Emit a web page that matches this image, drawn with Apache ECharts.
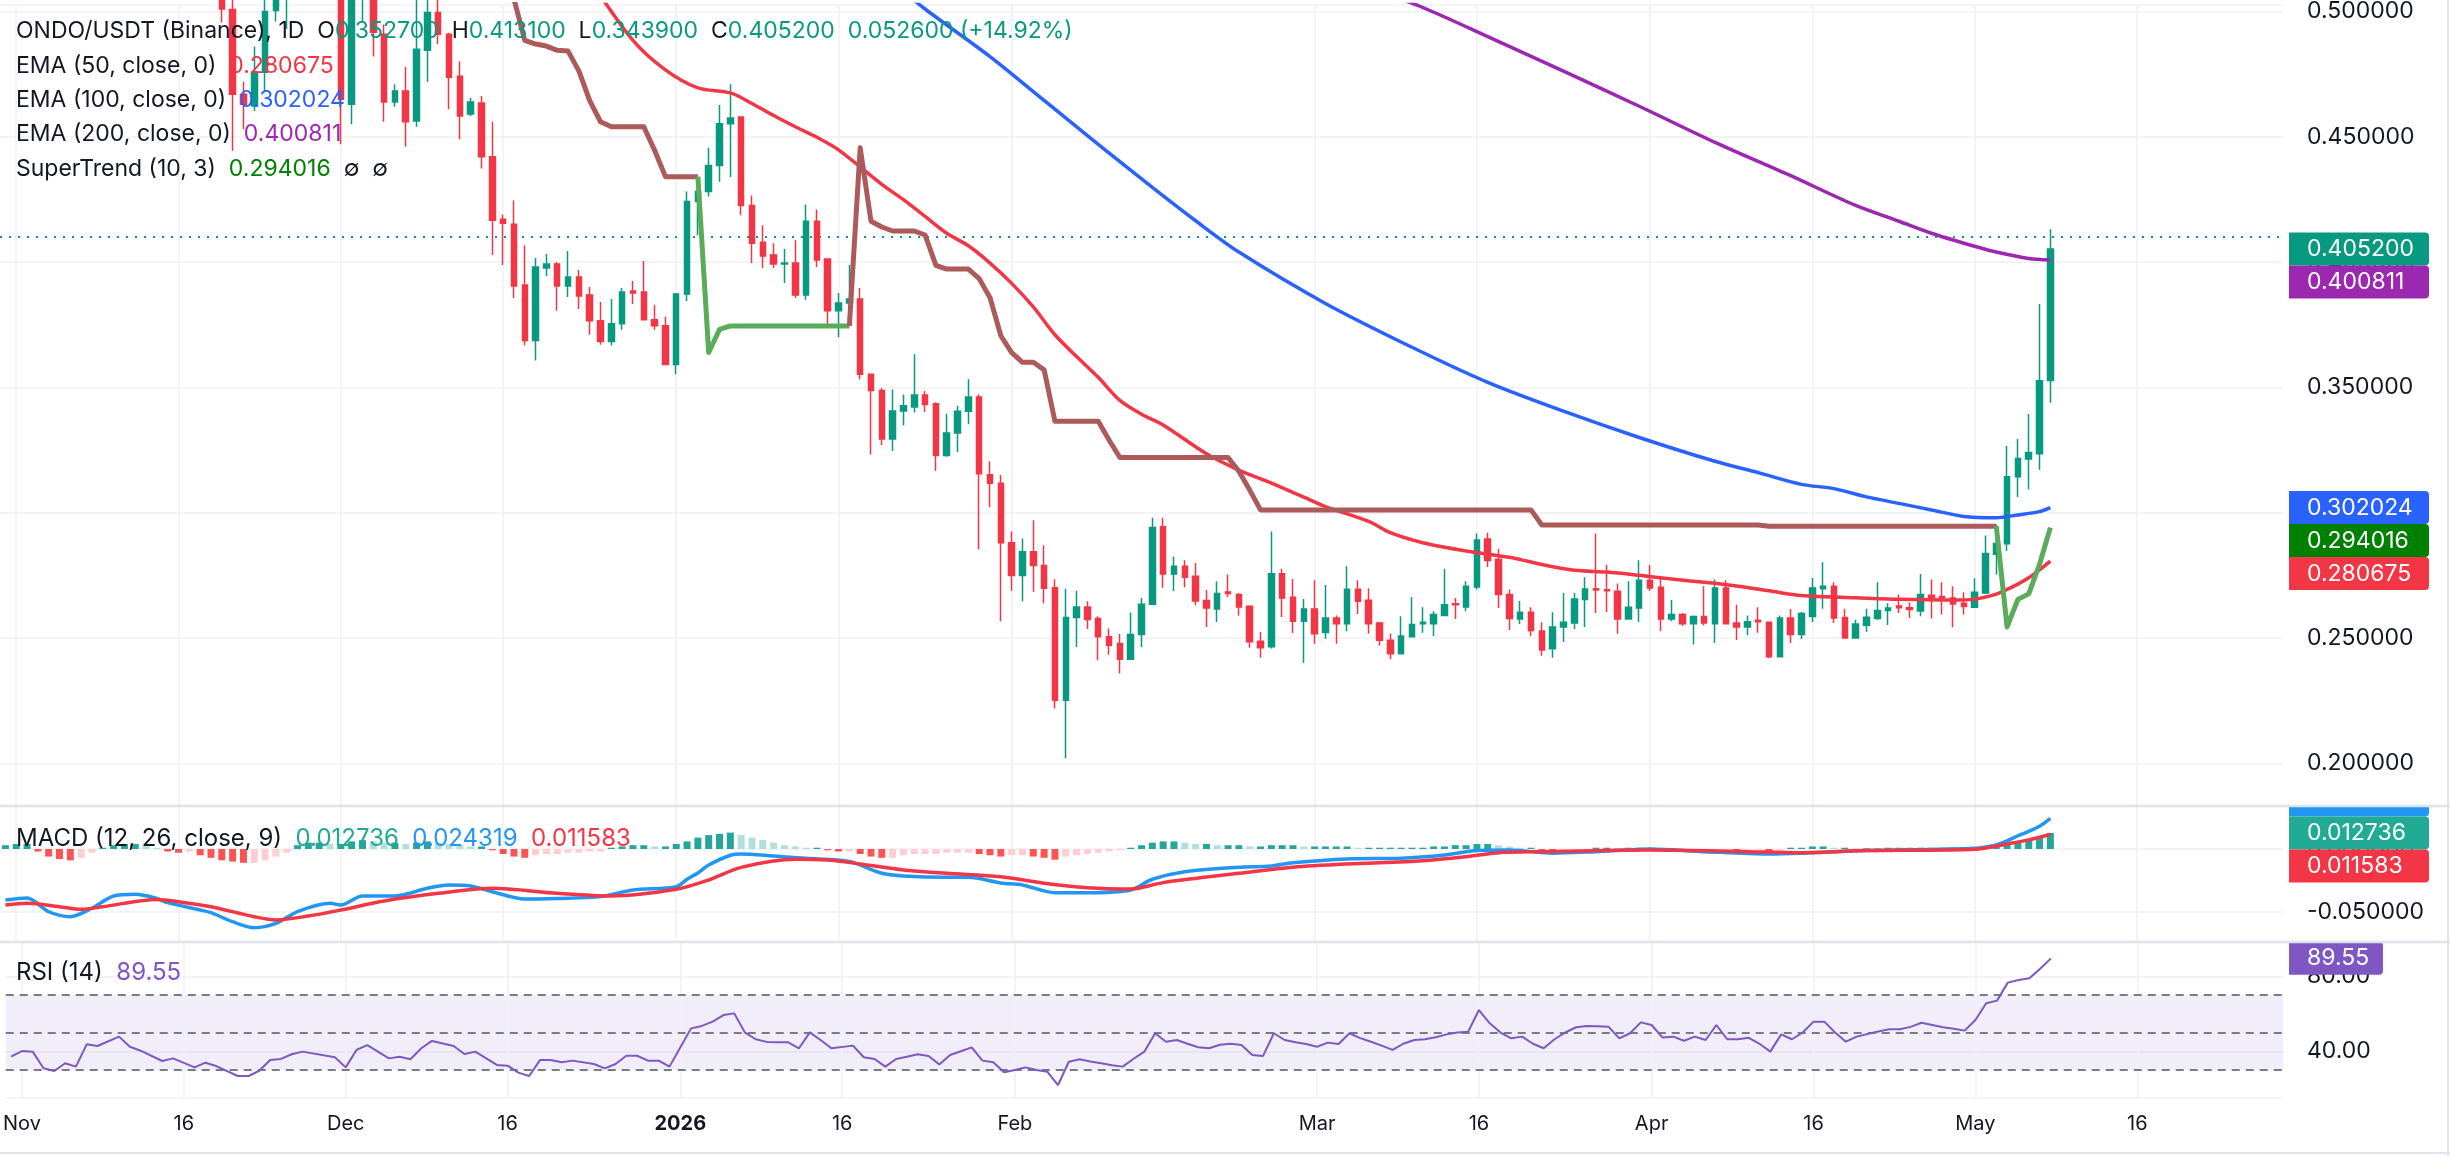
<!DOCTYPE html>
<html>
<head>
<meta charset="utf-8">
<title>ONDO/USDT (Binance), 1D</title>
<script src="https://cdn.jsdelivr.net/npm/echarts@6.0.0/dist/echarts.min.js"></script>
<style>
html, body { margin: 0; padding: 0; background: #ffffff; }
#chart { width: 2450px; height: 1156px; }
</style>
</head>
<body>
<div id="chart"></div>
<script>
// day numbers count from 2025-11-01 (day 0)
var firstDay = -1, lastDay = 209;
var candleStartDay = 19;   // first candle: 2025-11-20
var histStartDay = -1;     // first histogram bar: 2025-10-31

var openP = [0.515,0.5008,0.467,0.4623,0.4758,0.5004,0.512,0.522,0.53,0.52,0.525,
  0.515,0.463,0.505,0.51,0.4909,0.4639,0.4683,0.4563,0.4845,0.4996,
  0.4909,0.4742,0.4591,0.4635,0.442,0.4171,0.4151,0.3909,0.3687,0.3976,
  0.3992,0.3905,0.394,0.3869,0.3766,0.3683,0.3754,0.3885,0.3881,0.377,
  0.3746,0.3591,0.3873,0.4242,0.4282,0.4385,0.4552,0.4579,0.4226,0.4079,
  0.4028,0.3992,0.3996,0.3869,0.4163,0.4012,0.3806,0.3837,0.3853,0.3552,
  0.3488,0.3294,0.3406,0.3422,0.347,0.3435,0.3228,0.3318,0.3405,0.3462,
  0.3151,0.3117,0.288,0.2749,0.2844,0.2789,0.27,0.2251,0.2582,0.2624,
  0.2578,0.2505,0.2478,0.2415,0.2514,0.2635,0.2944,0.2755,0.2786,0.2746,
  0.2649,0.2616,0.2683,0.2673,0.2627,0.2487,0.2465,0.2756,0.2662,0.2567,
  0.2616,0.2522,0.258,0.2557,0.2694,0.265,0.256,0.2491,0.2437,0.2505,
  0.2557,0.2557,0.259,0.2637,0.2624,0.2703,0.2895,0.2814,0.2673,0.2576,
  0.2603,0.2528,0.2457,0.2544,0.256,0.2653,0.2696,0.2692,0.2686,0.2576,
  0.262,0.273,0.2702,0.2576,0.2594,0.2557,0.2586,0.2557,0.2699,0.256,
  0.2544,0.2571,0.2563,0.2425,0.258,0.2514,0.2586,0.2696,0.2706,0.2582,
  0.25,0.2551,0.2578,0.261,0.2628,0.2621,0.2608,0.267,0.2665,0.2659,
  0.2639,0.2623,0.2679,0.2834,0.2876,0.3143,0.3214,0.3235,0.3527];
var highP = [0.525,0.51,0.472,0.486,0.508,0.52,0.53,0.54,0.545,0.53,0.53,
  0.52,0.51,0.52,0.515,0.4948,0.471,0.478,0.508,0.51,0.505,
  0.4915,0.48,0.4655,0.4663,0.456,0.419,0.4246,0.4067,0.4016,0.4032,
  0.40,0.4044,0.3968,0.3901,0.3841,0.3853,0.3897,0.3925,0.4004,0.383,
  0.3782,0.3877,0.4282,0.4306,0.4456,0.4627,0.471,0.4579,0.4266,0.4147,
  0.4075,0.4052,0.4087,0.423,0.421,0.4012,0.3877,0.3988,0.3897,0.3552,
  0.3498,0.3492,0.3472,0.3632,0.3486,0.344,0.3395,0.3427,0.3532,0.3473,
  0.3205,0.315,0.2925,0.2897,0.297,0.287,0.2734,0.2696,0.2688,0.2646,
  0.2587,0.2538,0.2516,0.2602,0.2659,0.298,0.298,0.2825,0.281,0.2799,
  0.2691,0.2726,0.2753,0.2678,0.263,0.2524,0.2925,0.2776,0.2735,0.2655,
  0.273,0.2711,0.259,0.2786,0.273,0.2698,0.2564,0.2518,0.2587,0.2663,
  0.2623,0.2607,0.2776,0.2659,0.2726,0.2917,0.292,0.2855,0.2693,0.2647,
  0.2623,0.2563,0.2603,0.2679,0.2679,0.2742,0.2917,0.2792,0.2717,0.2726,
  0.281,0.2792,0.2735,0.2651,0.26,0.259,0.2706,0.2733,0.273,0.2633,
  0.259,0.2623,0.2563,0.259,0.2616,0.2604,0.2739,0.2802,0.2722,0.2617,
  0.2573,0.2617,0.2722,0.2639,0.2673,0.2642,0.2755,0.2733,0.2722,0.2706,
  0.2682,0.2738,0.2909,0.2952,0.3266,0.3294,0.3394,0.3833,0.4131];
var lowP = [0.4956,0.4444,0.453,0.4603,0.468,0.496,0.493,0.51,0.512,0.512,0.507,
  0.447,0.455,0.496,0.482,0.456,0.462,0.446,0.454,0.472,0.487,
  0.461,0.449,0.4583,0.4373,0.4028,0.3988,0.3857,0.3667,0.3607,0.3944,
  0.3806,0.3861,0.3813,0.371,0.367,0.3667,0.373,0.3833,0.377,0.373,
  0.3591,0.3552,0.3845,0.4107,0.4262,0.4321,0.434,0.4187,0.3996,0.3976,
  0.3976,0.3917,0.3857,0.385,0.398,0.375,0.37,0.383,0.3532,0.3232,
  0.327,0.3246,0.3348,0.34,0.3402,0.3167,0.3223,0.3242,0.3353,0.2853,
  0.3022,0.2567,0.2688,0.2646,0.2684,0.2639,0.2218,0.202,0.2464,0.2536,
  0.2411,0.2433,0.2358,0.2412,0.2464,0.2632,0.27,0.2687,0.2702,0.2631,
  0.2544,0.2564,0.2663,0.259,0.2461,0.2421,0.2458,0.2584,0.252,0.2401,
  0.2477,0.2497,0.2477,0.2527,0.2596,0.2517,0.247,0.2415,0.2437,0.2505,
  0.2521,0.2508,0.259,0.2576,0.2607,0.2693,0.2783,0.262,0.2532,0.2556,
  0.2508,0.2429,0.2421,0.2484,0.2536,0.2544,0.26,0.2604,0.2517,0.2576,
  0.2564,0.2687,0.2527,0.2567,0.2548,0.2474,0.255,0.248,0.2557,0.2492,
  0.2511,0.2521,0.2419,0.2425,0.248,0.2496,0.2564,0.2617,0.256,0.2498,
  0.2498,0.2524,0.2573,0.2552,0.26,0.258,0.2587,0.2578,0.2594,0.2543,
  0.2594,0.2623,0.2675,0.2752,0.2847,0.3063,0.3092,0.3171,0.3439];
var closeP = [0.501,0.467,0.463,0.4758,0.500,0.512,0.522,0.53,0.52,0.525,0.515,
  0.465,0.505,0.51,0.4917,0.4639,0.4683,0.456,0.4849,0.4996,0.4909,
  0.4738,0.4583,0.4639,0.442,0.4167,0.4155,0.3905,0.3687,0.398,0.3992,
  0.3905,0.394,0.3865,0.3766,0.3683,0.3754,0.3881,0.3877,0.377,0.3746,
  0.3591,0.3873,0.4242,0.4282,0.4385,0.4552,0.4575,0.4226,0.4075,0.4024,
  0.3992,0.3996,0.3869,0.4163,0.4008,0.3806,0.3837,0.3853,0.3552,0.3488,
  0.3294,0.3406,0.3427,0.347,0.3432,0.3228,0.3318,0.3405,0.3462,0.3155,
  0.3117,0.288,0.2749,0.2844,0.2789,0.2698,0.2251,0.2582,0.2624,0.2574,
  0.2505,0.2471,0.2415,0.2514,0.2635,0.2941,0.2755,0.2786,0.2742,0.2647,
  0.262,0.2677,0.2677,0.2624,0.2485,0.2461,0.2756,0.2659,0.2567,0.2616,
  0.2517,0.258,0.2557,0.2694,0.2646,0.2557,0.2491,0.2437,0.2508,0.2554,
  0.2563,0.2594,0.2633,0.2633,0.2706,0.2891,0.2809,0.2673,0.2578,0.2603,
  0.253,0.2452,0.2544,0.2563,0.2655,0.2695,0.2691,0.2688,0.2576,0.2623,
  0.273,0.2699,0.2576,0.2594,0.2557,0.2586,0.256,0.2699,0.2557,0.2544,
  0.2565,0.2565,0.2425,0.258,0.2514,0.2598,0.2699,0.2706,0.258,0.25,
  0.2556,0.2583,0.261,0.262,0.2621,0.2614,0.2673,0.2662,0.2659,0.2636,
  0.2626,0.2682,0.2837,0.2877,0.3143,0.3216,0.324,0.3526,0.4052];

// [day, value] readings of the indicator lines
var ema50Pts = [[52,0.516],[53,0.512],[57,0.4885],[60,0.4767],[63,0.4695],[66,0.4675],[68,0.4633],[70,0.4585],
  [72,0.454],[74,0.4498],[76,0.4448],[80,0.431],[82,0.4249],[84,0.4182],[86,0.4115],[88,0.4065],[90,0.3996],
  [92,0.3915],[94,0.3821],[96,0.371],[98,0.3623],[100,0.354],[102,0.3448],[104,0.3393],[106,0.335],[110,0.3235],
  [113,0.317],[116,0.3118],[119,0.3062],[121,0.3024],[125,0.2965],[127,0.292],[130,0.288],[134,0.2847],[138,0.2822],
  [141,0.2793],[144,0.277],[147,0.2763],[150,0.275],[153,0.2735],[156,0.2722],[159,0.2707],[162,0.2688],[165,0.2669],
  [170,0.266],[174,0.2654],[179,0.2651],[181,0.2655],[183,0.2675],[184,0.2694],[185,0.2715],[186,0.274],[187,0.2772],[188,0.280675]];
var ema100Pts = [[80,0.515],[84,0.501],[90,0.482],[95,0.4645],[100,0.447],[105,0.4298],[109,0.4165],[113,0.404],
  [121,0.3835],[129,0.366],[136,0.352],[143,0.3405],[150,0.33],[157,0.3205],[161,0.316],[165,0.3113],[168,0.3096],
  [171,0.3063],[174,0.3037],[177,0.3011],[180,0.2985],[183,0.298],[185,0.2991],[187,0.3004],[188,0.302024]];
var ema200Pts = [[126,0.508],[130,0.5016],[136,0.49],[143,0.4762],[150,0.4622],[157,0.4478],[164,0.4345],[170,0.4226],
  [174,0.4163],[177,0.4115],[181,0.4063],[183,0.404],[186,0.4014],[188,0.400811]];
var stDown1 = [[44,0.545],[45,0.525],[46,0.505],[47,0.4885],[48,0.487],[49,0.4862],[50,0.4845],[51,0.4842],[52,0.4763],
  [53,0.4644],[54,0.456],[55,0.454],[58,0.454],[59,0.4446],[60,0.4341],[63,0.4341]];
var stUp1 = [[63,0.4341],[64,0.3639],[65,0.3731],[66,0.3745],[77,0.3745]];
var stDown2 = [[77,0.3745],[78,0.4456],[79,0.4163],[80,0.414],[81,0.4124],[83,0.4124],[84,0.4108],[85,0.3987],[86,0.3972],
  [88,0.3972],[89,0.3934],[90,0.3858],[91,0.3706],[92,0.3639],[93,0.36],[94,0.36],[95,0.357],[96,0.3365],[100,0.3365],
  [101,0.329],[102,0.322],[112,0.322],[113,0.3165],[114,0.309],[115,0.3011],[140,0.3011],[141,0.2951],[161,0.2951],
  [162,0.2946],[183,0.2946]];
var stUp2 = [[183,0.2946],[184,0.2544],[185,0.2654],[186,0.2676],[187,0.2794],[188,0.294016]];

var macdPts = [[-1,-0.0405],[1,-0.0389],[3,-0.0498],[5,-0.0537],[7,-0.047],[9,-0.0373],[11,-0.036],[13,-0.0392],
  [14,-0.0426],[17,-0.0484],[18,-0.0505],[20,-0.0577],[22,-0.0624],[24,-0.059],[26,-0.0497],[29,-0.0431],[30,-0.0444],
  [32,-0.0373],[35,-0.0373],[38,-0.0312],[40,-0.0286],[42,-0.0294],[44,-0.0339],[47,-0.0397],[50,-0.0392],[54,-0.0378],
  [57,-0.0325],[61,-0.0299],[62,-0.024],[63,-0.019],[64,-0.0127],[66,-0.005],[67,-0.004],[70,-0.0056],[73,-0.0074],
  [77,-0.01],[80,-0.0193],[82,-0.0214],[86,-0.0225],[88,-0.0225],[91,-0.027],[93,-0.0286],[96,-0.0347],[99,-0.0347],
  [103,-0.0325],[105,-0.024],[108,-0.018],[113,-0.0145],[116,-0.0135],[118,-0.0109],[123,-0.0079],[128,-0.0074],
  [132,-0.0048],[135,-0.0012],[138,-0.0008],[142,-0.0034],[146,-0.0021],[151,0],[156,-0.0021],[162,-0.004],
  [165,-0.0034],[171,-0.0013],[181,0.0006],[183,0.0032],[184,0.0065],[185,0.0105],[186,0.014],[187,0.018],[188,0.024319]];
var signalPts = [[-1,-0.0444],[1,-0.0431],[4,-0.0458],[6,-0.0479],[8,-0.0458],[13,-0.04],[15,-0.0418],[18,-0.0458],
  [22,-0.0537],[24,-0.0563],[27,-0.0532],[30,-0.0484],[34,-0.0413],[39,-0.0352],[44,-0.0312],[50,-0.0352],[55,-0.0373],
  [61,-0.032],[64,-0.0246],[67,-0.0146],[72,-0.0082],[75,-0.0087],[78,-0.0119],[82,-0.0167],[86,-0.0193],[91,-0.022],
  [95,-0.0272],[99,-0.0307],[103,-0.0317],[106,-0.0267],[113,-0.0193],[118,-0.0145],[123,-0.0119],[130,-0.0093],
  [134,-0.0061],[137,-0.0029],[141,-0.0021],[151,-0.0008],[160,-0.0021],[165,-0.0029],[171,-0.0013],[181,-0.0002],
  [184,0.004],[186,0.0072],[187,0.0093],[188,0.011583]];
var macdHist = [0.003,0.004,0.004,-0.002,-0.006,-0.008,-0.009,-0.007,-0.003,0.001,
  0.003,0.004,0.004,0.003,0.001,-0.002,-0.003,-0.002,-0.005,-0.007,
  -0.009,-0.01,-0.011,-0.011,-0.009,-0.006,-0.003,0.003,0.005,0.005,
  0.004,0.004,0.006,0.007,0.006,0.005,0.005,0.004,0.005,0.006,
  0.005,0.004,0.003,0.002,0.002,-0.001,-0.004,-0.006,-0.007,-0.005,
  -0.004,-0.004,-0.003,-0.003,-0.002,-0.002,0.001,0.002,0.003,0.003,
  0.002,0.002,0.004,0.006,0.009,0.011,0.012,0.013,0.011,0.009,
  0.007,0.005,0.003,0.002,0.001,0.001,-0.001,-0.002,-0.002,-0.004,
  -0.006,-0.007,-0.007,-0.005,-0.004,-0.004,-0.004,-0.003,-0.003,-0.003,
  -0.004,-0.005,-0.006,-0.005,-0.005,-0.006,-0.007,-0.0085,-0.006,-0.005,
  -0.004,-0.003,-0.002,-0.001,0.001,0.003,0.005,0.006,0.006,0.005,
  0.004,0.004,0.003,0.003,0.003,0.002,0.002,0.003,0.003,0.003,
  0.002,0.002,0.002,0.002,0.002,0.001,0.001,0.001,0.001,0.001,
  0.001,0.001,0.002,0.002,0.003,0.003,0.004,0.004,0.003,0.002,
  0.001,0.001,-0.001,-0.002,-0.001,-0.001,-0.001,0.001,0.001,0.0005,
  0.001,0.001,0.001,0.0005,0.0005,-0.0005,-0.0005,-0.001,-0.0005,-0.0005,
  -0.001,-0.001,-0.001,-0.002,-0.001,0.001,0.001,0.002,0.002,0.001,
  0.001,0.0005,0.0005,0.0005,0.001,0.001,0.001,0.001,0.001,0.001,
  0.001,0.001,0.001,0.002,0.003,0.004,0.006,0.007,0.009,0.012736];
var rsiPts = [[-1,37.1],[0,40.1],[1,39.8],[2,30.9],[3,29.5],[4,33.6],[5,31.8],[6,43.7],[7,42.8],[9,47.8],[10,42.4],
  [11,40.3],[13,34.8],[14,36.2],[16,31.4],[17,33.9],[18,32.1],[20,26.8],[21,26.8],[22,29.6],[23,35.3],[24,35.9],
  [25,38.4],[26,39.8],[29,36.8],[30,31.4],[31,40.7],[32,43.3],[34,36.2],[35,37.1],[36,35.7],[37,41.6],[38,45.5],
  [40,42.8],[41,38.5],[42,39.8],[44,32.7],[45,32.3],[46,28.6],[47,26.8],[48,35.3],[49,35.3],[50,34.1],[51,35],
  [53,33.2],[54,30.9],[55,33.2],[56,37.6],[57,37.6],[58,35],[59,35],[60,31.8],[61,42],[62,52.2],[63,53.5],[64,55.8],
  [65,59.3],[66,60.2],[67,49.9],[68,46.4],[69,45],[70,44.8],[71,44.8],[72,41.6],[73,50.1],[74,46],[75,41.6],[77,43],
  [78,36.8],[79,35.9],[80,31.8],[81,35.9],[82,37.1],[83,38.4],[84,37.5],[85,33],[86,38],[87,40],[88,42.1],[89,35],
  [90,34.1],[91,28.8],[92,30],[93,31.4],[94,30],[95,29.1],[96,22],[97,34.4],[98,35.7],[99,34.5],[100,33.6],[101,32.5],
  [102,31.8],[103,36],[104,39.8],[105,49.6],[106,45.1],[107,46],[108,44],[109,42.1],[110,41.6],[111,43.5],[112,44],
  [113,43.3],[114,38],[115,37.5],[116,49.6],[117,46],[118,44.8],[119,43.9],[120,42.4],[121,44.6],[122,43.9],[123,49.6],
  [124,47],[125,45.1],[126,43],[127,40.7],[128,44],[129,46],[130,46.4],[131,47.5],[132,49],[133,50],[134,50.4],[135,62],
  [136,54.9],[137,50],[138,46.9],[139,47.8],[140,44],[141,41.6],[142,46.4],[143,50],[144,52.8],[145,53.5],[146,53.4],
  [147,53.1],[148,46.9],[149,49.6],[150,55.4],[151,54],[152,47.4],[153,47.8],[154,45.6],[155,47.8],[156,46],[157,54],
  [158,46.4],[159,46.4],[160,47.2],[161,44],[162,39.8],[163,49],[164,46.4],[165,50],[166,55.8],[167,55.8],[168,50],
  [169,45.1],[170,47.8],[172,50.5],[173,51.7],[174,51.7],[175,53],[176,55.2],[177,54],[178,52.8],[179,52],[180,51],
  [181,56.7],[182,65.6],[183,67],[184,76.6],[185,78],[186,78.9],[187,84],[188,89.55]];

var priceTicks = { min: 0.18294, max: 0.50278, step: 0.05 };
var macdTicks = { min: -0.0738, max: 0.0341, step: 0.05 };
var rsiTicks = { min: 15.07, max: 98.27, step: 40 };
var rsiLevels = [70, 50, 30];
var lastPrice = 0.4052;

var monthNames = ['Jan','Feb','Mar','Apr','May','Jun','Jul','Aug','Sep','Oct','Nov','Dec'];
var dayZero = Date.UTC(2025, 10, 1);
function dayLabel(d) {
  var t = new Date(dayZero + d * 86400000);
  var m = t.getUTCMonth() + 1, dd = t.getUTCDate();
  return t.getUTCFullYear() + '-' + (m < 10 ? '0' : '') + m + '-' + (dd < 10 ? '0' : '') + dd;
}
var categories = [];
for (var d = firstDay; d <= lastDay; d++) categories.push(dayLabel(d));

function isGridDay(lbl) {
  var day = +lbl.slice(8, 10), mon = +lbl.slice(5, 7);
  return day === 1 || (day === 16 && mon !== 2);
}
function shortLabel(lbl) {
  var day = +lbl.slice(8, 10), mon = +lbl.slice(5, 7);
  if (day !== 1) return '' + day;
  if (mon === 1) return '{b|' + lbl.slice(0, 4) + '}';
  return monthNames[mon - 1];
}
var gridDays = categories.filter(isGridDay);
function vLines() {
  return gridDays.map(function (c) { return { xAxis: c }; });
}
function pts(arr) {
  return arr.map(function (p) { return [dayLabel(p[0]), p[1]]; });
}

var candleData = [];
for (var i = 0; i < openP.length; i++) {
  candleData.push([dayLabel(candleStartDay + i), openP[i], closeP[i], lowP[i], highP[i]]);
}
var histData = macdHist.map(function (v, i) {
  var prev = i > 0 ? macdHist[i - 1] : v;
  var c;
  if (v >= 0) c = v >= prev ? '#26a69a' : '#b2dfdb';
  else c = v < prev ? '#ff5252' : '#ffcdd2';
  return { value: [dayLabel(histStartDay + i), v], itemStyle: { color: c } };
});

var FONT = 'Inter, "Noto Sans", sans-serif';
var gridLineColor = '#f0f1f4';

var myChart = echarts.init(document.getElementById('chart'), null, { width: 2450, height: 1156 });

function xAxisFor(idx, showLabel) {
  return {
    type: 'category', gridIndex: idx, data: categories, boundaryGap: true,
    axisLine: { show: false }, axisTick: { show: false }, splitLine: { show: false },
    axisLabel: {
      show: showLabel, interval: function (index, value) { return isGridDay(value); },
      formatter: shortLabel, color: '#131722', fontSize: 20, fontFamily: FONT, margin: 16,
      rich: { b: { fontWeight: 'bold', fontSize: 20, fontFamily: FONT, color: '#131722' } }
    }
  };
}
function yAxisFor(idx, t, digits) {
  return {
    type: 'value', gridIndex: idx, position: 'right', scale: true,
    min: t.min, max: t.max, minInterval: t.step, maxInterval: t.step,
    axisLine: { show: false }, axisTick: { show: false },
    splitLine: { show: true, lineStyle: { color: gridLineColor, width: 1.5 } },
    axisLabel: {
      showMinLabel: false, showMaxLabel: false, margin: 24, color: '#131722',
      fontSize: 23, fontFamily: FONT,
      formatter: function (v) { return v.toFixed(digits); }
    }
  };
}
var gridLineStyle = { color: gridLineColor, width: 1.5, type: 'solid' };

myChart.setOption({
  animation: false,
  backgroundColor: '#ffffff',
  grid: [
    { left: -6, right: 167, top: 0, height: 806 },
    { left: -6, right: 167, top: 806, height: 136 },
    { left: -6, right: 167, top: 942, height: 156 }
  ],
  xAxis: [xAxisFor(0, false), xAxisFor(1, false), xAxisFor(2, true)],
  yAxis: [yAxisFor(0, priceTicks, 6), yAxisFor(1, macdTicks, 6), yAxisFor(2, rsiTicks, 2)],
  series: [
    {
      name: 'ONDO/USDT', type: 'candlestick', xAxisIndex: 0, yAxisIndex: 0,
      dimensions: ['date', 'open', 'close', 'lowest', 'highest'],
      encode: { x: 'date', y: ['open', 'close', 'lowest', 'highest'] },
      data: candleData, barWidth: 6,
      itemStyle: { color: '#089981', color0: '#f23645', borderColor: '#089981', borderColor0: '#f23645', borderWidth: 1.5 },
      markLine: {
        silent: true, symbol: ['none', 'none'], z: 1, label: { show: false },
        lineStyle: gridLineStyle,
        data: vLines().concat([{ yAxis: lastPrice, lineStyle: { color: '#089981', width: 2, type: [2, 7] } }])
      }
    },
    { name: 'EMA 50', type: 'line', xAxisIndex: 0, yAxisIndex: 0, data: pts(ema50Pts), smooth: 0.3, showSymbol: false,
      lineStyle: { color: '#f23645', width: 3.5 } },
    { name: 'EMA 100', type: 'line', xAxisIndex: 0, yAxisIndex: 0, data: pts(ema100Pts), smooth: 0.3, showSymbol: false,
      lineStyle: { color: '#2962ff', width: 3.5 } },
    { name: 'EMA 200', type: 'line', xAxisIndex: 0, yAxisIndex: 0, data: pts(ema200Pts), smooth: 0.3, showSymbol: false,
      lineStyle: { color: '#9c27b0', width: 3.5 } },
    { name: 'ST down 1', type: 'line', xAxisIndex: 0, yAxisIndex: 0, data: pts(stDown1), showSymbol: false,
      lineStyle: { color: '#ac5a5a', width: 5, join: 'round' } },
    { name: 'ST up 1', type: 'line', xAxisIndex: 0, yAxisIndex: 0, data: pts(stUp1), showSymbol: false,
      lineStyle: { color: '#5aab5a', width: 5, join: 'round' } },
    { name: 'ST down 2', type: 'line', xAxisIndex: 0, yAxisIndex: 0, data: pts(stDown2), showSymbol: false,
      lineStyle: { color: '#ac5a5a', width: 5, join: 'round' } },
    { name: 'ST up 2', type: 'line', xAxisIndex: 0, yAxisIndex: 0, data: pts(stUp2), showSymbol: false,
      lineStyle: { color: '#5aab5a', width: 5, join: 'round' } },
    {
      name: 'Histogram', type: 'bar', xAxisIndex: 1, yAxisIndex: 1, data: histData, barWidth: 7,
      markLine: { silent: true, symbol: ['none', 'none'], z: 1, label: { show: false }, lineStyle: gridLineStyle, data: vLines() }
    },
    { name: 'MACD', type: 'line', xAxisIndex: 1, yAxisIndex: 1, data: pts(macdPts), smooth: 0.3, showSymbol: false,
      lineStyle: { color: '#2196f3', width: 3.5 } },
    { name: 'Signal', type: 'line', xAxisIndex: 1, yAxisIndex: 1, data: pts(signalPts), smooth: 0.3, showSymbol: false,
      lineStyle: { color: '#f23645', width: 3.5 } },
    {
      name: 'RSI', type: 'line', xAxisIndex: 2, yAxisIndex: 2, data: pts(rsiPts), showSymbol: false,
      lineStyle: { color: '#7e57c2', width: 2 },
      markArea: { silent: true, itemStyle: { color: 'rgba(126,87,194,0.1)' }, data: [[{ yAxis: 30 }, { yAxis: 70 }]] },
      markLine: {
        silent: true, symbol: ['none', 'none'], z: 1, label: { show: false }, lineStyle: gridLineStyle,
        data: vLines().concat(rsiLevels.map(function (v) {
          return { yAxis: v, lineStyle: { color: '#787b86', width: 2, type: [8, 6] } };
        }))
      }
    }
  ]
});

// value tags on the right scale, stacked so they do not overlap
function tagStack(items, anchor, h) {
  items[anchor].top = items[anchor].y - h / 2;
  for (var i = anchor + 1; i < items.length; i++) items[i].top = Math.max(items[i].y - h / 2, items[i - 1].top + h);
  for (var j = anchor - 1; j >= 0; j--) items[j].top = Math.min(items[j].y - h / 2, items[j + 1].top - h);
  return items;
}
function yPix(axis, v) { return myChart.convertToPixel({ yAxisIndex: axis }, v); }
var TAG_H = 33;
var priceTags = tagStack([
  { v: 0.4052, c: '#089981', t: '0.405200' },
  { v: 0.400811, c: '#9c27b0', t: '0.400811' },
  { v: 0.302024, c: '#2962ff', t: '0.302024' },
  { v: 0.294016, c: '#008000', t: '0.294016' },
  { v: 0.280675, c: '#f23645', t: '0.280675' }
].map(function (o) { o.y = yPix(0, o.v); return o; }), 0, TAG_H);
var macdTags = tagStack([
  { v: 0.024319, c: '#2196f3', t: '0.024319' },
  { v: 0.012736, c: '#22ab94', t: '0.012736' },
  { v: 0.011583, c: '#f23645', t: '0.011583' }
].map(function (o) { o.y = yPix(1, o.v); return o; }), 1, TAG_H);
var rsiTags = tagStack([{ v: 89.55, c: '#7e57c2', t: '89.55' }].map(function (o) { o.y = yPix(2, o.v); return o; }), 0, TAG_H);

var graphics = [];
function addTag(o, w) {
  graphics.push({ type: 'rect', z: 100, shape: { x: 2289, y: o.top, width: w, height: TAG_H, r: [0, 4, 4, 0] }, style: { fill: o.c } });
  graphics.push({ type: 'text', z: 101, x: 2307, y: o.top + TAG_H / 2,
    style: { text: o.t, fill: '#ffffff', font: '23px ' + FONT, verticalAlign: 'middle' } });
}
priceTags.forEach(function (o) { addTag(o, 140); });
macdTags.forEach(function (o) { addTag(o, 140); });
rsiTags.forEach(function (o) { addTag(o, 94); });

// keep the MACD tags inside their pane
graphics.push({ type: 'rect', z: 110, shape: { x: 2284, y: 779, width: 166, height: 26 }, style: { fill: '#ffffff' } });
// pane separators and borders
[806, 942].forEach(function (y) {
  graphics.push({ type: 'line', z: 120, shape: { x1: 0, y1: y, x2: 2450, y2: y }, style: { stroke: '#e0e3eb', lineWidth: 2.5 } });
});
graphics.push({ type: 'line', z: 120, shape: { x1: 2448, y1: 0, x2: 2448, y2: 1156 }, style: { stroke: '#e0e3eb', lineWidth: 2 } });
graphics.push({ type: 'line', z: 120, shape: { x1: 0, y1: 1153, x2: 2450, y2: 1153 }, style: { stroke: '#e0e3eb', lineWidth: 2 } });

// legends
function legend(y, size, text, rich) {
  var f = size + 'px ' + FONT;
  var r = { k: { fill: '#131722', font: f } };
  for (var key in rich) r[key] = { fill: rich[key], font: f };
  graphics.push({ type: 'text', z: 130, x: 16, y: y, style: { text: text, rich: r, font: f, fill: '#131722', verticalAlign: 'middle' } });
}
legend(31, 23, '{k|ONDO/USDT (Binance), 1D}  {k|O}{v|0.352700}  {k|H}{v|0.413100}  {k|L}{v|0.343900}  {k|C}{v|0.405200}  {v|0.052600 (+14.92%)}', { v: '#089981' });
legend(66, 23, '{k|EMA (50, close, 0)}  {a|0.280675}', { a: '#f23645' });
legend(100, 23, '{k|EMA (100, close, 0)}  {a|0.302024}', { a: '#2962ff' });
legend(134, 23, '{k|EMA (200, close, 0)}  {a|0.400811}', { a: '#9c27b0' });
legend(169, 23, '{k|SuperTrend (10, 3)}  {a|0.294016}  {k|\u2205  \u2205}', { a: '#008000' });
legend(839, 24, '{k|MACD (12, 26, close, 9)}  {a|0.012736}  {b|0.024319}  {c|0.011583}', { a: '#22ab94', b: '#2196f3', c: '#f23645' });
legend(973, 24, '{k|RSI (14)}  {a|89.55}', { a: '#7e57c2' });

myChart.setOption({ graphic: graphics });
</script>
</body>
</html>
